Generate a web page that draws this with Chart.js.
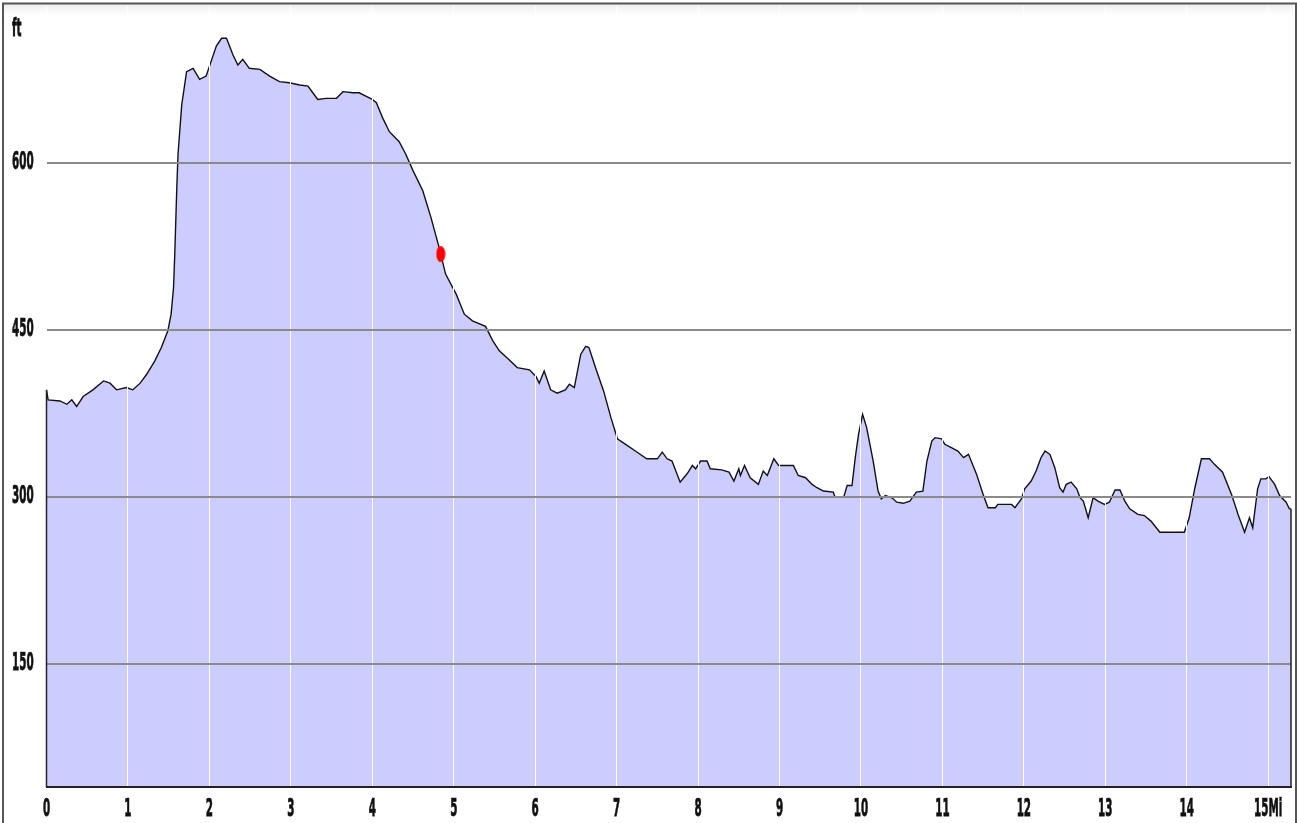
<!DOCTYPE html>
<html>
<head>
<meta charset="utf-8">
<script src="https://cdn.jsdelivr.net/npm/chart.js@4.4.1/dist/chart.umd.min.js"></script>
<style>
  html, body { margin: 0; padding: 0; background: #fff; }
  #wrap { width: 1297px; height: 823px; position: relative; }
</style>
</head>
<body>
<div id="wrap"><canvas id="chart" width="1297" height="823"></canvas></div>
<script>
// distance along the route (mi) and elevation (ft)
const miles = [
  0.00, 0.02, 0.165, 0.25, 0.31, 0.37, 0.45, 0.57, 0.70, 0.78, 0.86, 0.98,
  1.06, 1.15, 1.23, 1.33, 1.41, 1.49, 1.53, 1.56, 1.575, 1.60, 1.615, 1.66, 1.72, 1.80, 1.88, 1.96,
  2.02, 2.085, 2.15, 2.21, 2.29, 2.35, 2.41, 2.49, 2.62, 2.74, 2.86, 2.98,
  3.11, 3.21, 3.27, 3.33, 3.43, 3.56, 3.64, 3.76, 3.84, 3.92,
  4.00, 4.05, 4.13, 4.21, 4.33, 4.41, 4.50, 4.62, 4.72, 4.82, 4.90,
  5.03, 5.13, 5.23, 5.39, 5.48, 5.56, 5.68, 5.78, 5.93,
  6.01, 6.05, 6.11, 6.19, 6.27, 6.37, 6.42, 6.48, 6.56, 6.62, 6.66, 6.74, 6.84, 6.93,
  7.01, 7.11, 7.23, 7.37, 7.50, 7.56, 7.62, 7.68, 7.78, 7.87, 7.93, 7.97,
  8.03, 8.11, 8.15, 8.29, 8.38, 8.44, 8.50, 8.52, 8.57, 8.64, 8.74, 8.80, 8.85, 8.93, 8.99,
  9.17, 9.23, 9.32, 9.40, 9.46, 9.54, 9.66, 9.68, 9.79, 9.83, 9.89, 9.93, 9.97,
  10.02, 10.07, 10.15, 10.21, 10.25, 10.30, 10.38, 10.44, 10.52, 10.60, 10.68, 10.76, 10.81, 10.87, 10.91, 10.99,
  11.03, 11.11, 11.19, 11.26, 11.32, 11.42, 11.50, 11.56, 11.65, 11.68, 11.85, 11.89, 11.97,
  12.01, 12.09, 12.15, 12.21, 12.26, 12.32, 12.38, 12.44, 12.48, 12.52, 12.58, 12.65, 12.69, 12.73, 12.79, 12.85, 12.91, 12.99,
  13.05, 13.12, 13.18, 13.24, 13.30, 13.40, 13.48, 13.56, 13.67, 13.81, 13.97,
  14.03, 14.10, 14.18, 14.28, 14.34, 14.44, 14.55, 14.63, 14.71, 14.77, 14.81, 14.87, 14.91, 14.97,
  15.01, 15.08, 15.14, 15.22, 15.26, 15.28
];
const feet = [
  396, 387, 386, 383, 387, 381, 390, 396, 404, 402, 396, 398,
  396, 402, 410, 422, 434, 449, 464, 488, 518, 578, 608, 652, 682, 685, 675, 678,
  691, 705, 712, 712, 697, 688, 693, 685, 684, 678, 673, 672,
  670, 669, 663, 657, 658, 658, 664, 663, 663, 660,
  657, 654, 640, 628, 619, 608, 593, 575, 551, 524, 500,
  482, 464, 458, 453, 440, 431, 423, 416, 414,
  408, 402, 413, 396, 393, 396, 401, 398, 428, 435, 434, 416, 395, 371,
  352, 347, 341, 334, 334, 340, 334, 332, 313, 321, 328, 325,
  332, 332, 325, 324, 322, 314, 325, 319, 328, 317, 311, 323, 319, 334, 328,
  328, 319, 317, 311, 308, 305, 304, 300, 300, 310, 310, 335, 356,
  374, 362, 332, 305, 298, 301, 299, 295, 294, 296, 304, 305, 332, 350, 353, 352,
  347, 344, 341, 335, 338, 320, 302, 290, 290, 293, 293, 290, 298,
  307, 314, 323, 335, 341, 338, 326, 308, 304, 311, 313, 307, 299, 296, 281, 299, 296, 293,
  295, 306, 306, 296, 289, 284, 283, 278, 268, 268, 268,
  281, 308, 334, 334, 329, 322, 302, 284, 268, 281, 272, 307, 316, 316,
  318, 311, 301, 295, 289, 289
];
const markerMile = 4.84;
const markerFeet = 518;
const yTicks = [150, 300, 450, 600];
const xTicks = [0, 1, 2, 3, 4, 5, 6, 7, 8, 9, 10, 11, 12, 13, 14, 15];
const xUnit = 'Mi';
const yUnit = 'ft';

const profile = miles.map((m, i) => ({ x: m, y: feet[i] }));

const LABEL_FONT = 'bold 16px "Liberation Sans Narrow", "Arial Narrow", "DejaVu Sans Condensed", sans-serif';
const DIGIT_W = 7.2;  // target advance of one digit, px
const DIGIT_H = 18;   // target digit height, px

// tall oval marker like the original
const dot = document.createElement('canvas');
dot.width = 10; dot.height = 18;
(function () {
  const c = dot.getContext('2d');
  c.fillStyle = '#ff0000';
  c.beginPath();
  c.ellipse(5, 9, 4.5, 8, 0, 0, Math.PI * 2);
  c.fill();
})();

let sx = 1, sy = 1.5;
function stretchedText(ctx, text, x, y, align) {
  ctx.save();
  ctx.font = LABEL_FONT;
  ctx.fillStyle = '#111';
  ctx.strokeStyle = '#111';
  ctx.lineWidth = 0.5;
  ctx.textAlign = align;
  ctx.textBaseline = 'middle';
  ctx.translate(x, y);
  ctx.scale(sx, sy);
  ctx.fillText(text, 0, 0);
  ctx.strokeText(text, 0, 0);
  ctx.restore();
}

const framePlugin = {
  id: 'frame',
  beforeDraw(chart) {
    const ctx = chart.ctx;
    ctx.save();
    ctx.fillStyle = '#fff';
    ctx.fillRect(0, 0, chart.width, chart.height);
    const g = ctx.createLinearGradient(0, 4, 0, 20);
    g.addColorStop(0, 'rgba(200,200,200,0.35)');
    g.addColorStop(1, 'rgba(255,255,255,0)');
    ctx.fillStyle = g;
    ctx.fillRect(4, 4, chart.width - 8, 16);
    ctx.font = LABEL_FONT;
    const m = ctx.measureText('0');
    sx = DIGIT_W / m.width;
    sy = DIGIT_H / (m.actualBoundingBoxAscent + m.actualBoundingBoxDescent);
    ctx.restore();
  },
  afterDraw(chart) {
    const ctx = chart.ctx;
    const xs = chart.scales.x, ys = chart.scales.y;
    ctx.save();
    // outline the ends of the filled profile
    ctx.strokeStyle = '#222';
    ctx.lineWidth = 1.5;
    const bottom = chart.chartArea.bottom;
    const x0 = xs.getPixelForValue(miles[0]);
    const x1 = xs.getPixelForValue(miles[miles.length - 1]);
    ctx.beginPath();
    ctx.moveTo(x0, ys.getPixelForValue(feet[0]));
    ctx.lineTo(x0, bottom);
    ctx.moveTo(x1, ys.getPixelForValue(feet[feet.length - 1]));
    ctx.lineTo(x1, bottom);
    ctx.stroke();
    // outer frame
    ctx.strokeStyle = '#555';
    ctx.lineWidth = 2;
    ctx.beginPath();
    ctx.moveTo(3, chart.height);
    ctx.lineTo(3, 3.5);
    ctx.lineTo(chart.width - 1, 3.5);
    ctx.lineTo(chart.width - 1, chart.height);
    ctx.stroke();
    // tick labels and units
    xs.ticks.forEach(t => {
      const label = t.value === xTicks[xTicks.length - 1] ? t.value + xUnit : String(t.value);
      stretchedText(ctx, label, xs.getPixelForValue(t.value), 810, 'center');
    });
    ys.ticks.forEach(t => {
      stretchedText(ctx, String(t.value), 12, ys.getPixelForValue(t.value), 'left');
    });
    stretchedText(ctx, yUnit, 12, 30, 'left');
    ctx.restore();
  }
};

new Chart(document.getElementById('chart'), {
  type: 'line',
  data: {
    datasets: [
      {
        data: [{ x: markerMile, y: markerFeet }],
        showLine: false,
        pointStyle: dot,
        pointRadius: 5,
        order: 0
      },
      {
        data: profile,
        borderColor: '#111',
        borderWidth: 1.4,
        backgroundColor: 'rgb(204,204,255)',
        fill: 'start',
        pointRadius: 0,
        tension: 0,
        order: 1
      }
    ]
  },
  options: {
    responsive: false,
    animation: false,
    events: [],
    layout: { padding: { left: 12, top: 5, right: 4, bottom: 0 } },
    plugins: { legend: { display: false }, tooltip: { enabled: false } },
    scales: {
      x: {
        type: 'linear',
        min: 0,
        max: 15.28,
        afterBuildTicks: s => { s.ticks = xTicks.map(v => ({ value: v })); },
        afterFit: s => { s.height = 36; },
        grid: { color: '#ffffff', lineWidth: 1, drawTicks: false, z: 1 },
        border: { display: true, color: '#222', width: 2, z: 2 },
        ticks: { display: false }
      },
      y: {
        min: 39,
        max: 741,
        afterBuildTicks: s => { s.ticks = yTicks.map(v => ({ value: v })); },
        afterFit: s => { s.width = 34.5; },
        grid: { color: '#8a8a8a', lineWidth: 2, drawTicks: false, z: 1 },
        border: { display: false },
        ticks: { display: false }
      }
    }
  },
  plugins: [framePlugin]
});
</script>
</body>
</html>
